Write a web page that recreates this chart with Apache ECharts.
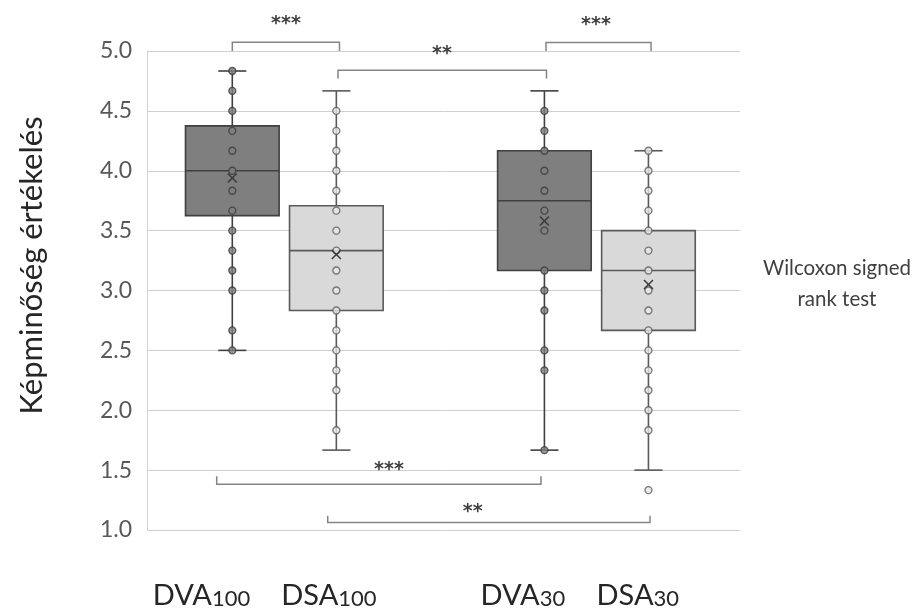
<!DOCTYPE html>
<html><head><meta charset="utf-8">
<script src="https://cdn.jsdelivr.net/npm/echarts@6/dist/echarts.min.js"></script>
<style>html,body{margin:0;padding:0;background:#fff}#c{width:921px;height:611px}</style>
</head><body><div id="c"></div>
<script>
// ---- data ----
const groupNames = ['DVA', 'DSA', 'DVA', 'DSA'];
const groupSubs = ['100', '100', '30', '30'];
const groupX = [1, 2, 4, 5];
const whiskerLow = [2.5, 1.667, 1.667, 1.5];
const q1 = [3.625, 2.833, 3.167, 2.667];
const median = [4.0, 3.333, 3.75, 3.167];
const q3 = [4.375, 3.708, 4.167, 3.5];
const whiskerHigh = [4.833, 4.667, 4.667, 4.167];
const mean = [3.94, 3.30, 3.58, 3.05];
const pointsDVA100 = [4.833, 4.667, 4.5, 4.333, 4.167, 4.0, 3.833, 3.667, 3.5, 3.333, 3.167, 3.0, 2.667, 2.5];
const pointsDSA100 = [4.5, 4.333, 4.167, 4.0, 3.833, 3.667, 3.5, 3.333, 3.167, 3.0, 2.833, 2.667, 2.5, 2.333, 2.167, 1.833];
const pointsDVA30 = [4.5, 4.333, 4.167, 4.0, 3.833, 3.667, 3.5, 3.167, 3.0, 2.833, 2.5, 2.333, 1.667];
const pointsDSA30 = [4.167, 4.0, 3.833, 3.667, 3.5, 3.333, 3.167, 3.0, 2.833, 2.667, 2.5, 2.333, 2.167, 2.0, 1.833, 1.333];
const pointSets = [pointsDVA100, pointsDSA100, pointsDVA30, pointsDSA30];
// significance brackets (data units)
const brackets = [
  {x1: 1.0, x2: 2.03, y: 5.073, leg: 5.0, lx: 1.516, ly: 5.26, label: '***'},
  {x1: 2.016, x2: 4.02, y: 4.839, leg: 4.77, lx: 3.015, ly: 5.008, label: '**'},
  {x1: 4.015, x2: 5.025, y: 5.07, leg: 5.0, lx: 4.496, ly: 5.25, label: '***'},
  {x1: 0.85, x2: 3.967, y: 1.383, leg: 1.448, lx: 2.506, ly: 1.536, label: '***'},
  {x1: 1.917, x2: 5.015, y: 1.063, leg: 1.119, lx: 3.31, ly: 1.183, label: '**'}
];
const yAxisTitle = 'Képminőség értékelés';
const noteLines = ['Wilcoxon signed', 'rank test'];

// ---- chart ----
const FONT = 'Lato, "Open Sans", sans-serif';
const isDark = i => groupNames[i] === 'DVA';
const style = i => isDark(i)
  ? {fill: '#7f7f7f', stroke: '#404040', ptFill: '#808080', ptStroke: '#3a3a3a'}
  : {fill: '#d9d9d9', stroke: '#5a5a5a', ptFill: '#e6e6e6', ptStroke: '#5a5a5a'};
// category labels sit slightly left of their boxes in the reference
const labelNudge = [-0.296, -0.071, -0.207, -0.102];
const labelValues = groupX.map((x, i) => +(x + labelNudge[i]).toFixed(3));

const boxData = groupX.map((x, i) => [x, whiskerLow[i], q1[i], median[i], q3[i], whiskerHigh[i]]);
const pointData = [];
pointSets.forEach((arr, i) => arr.forEach(v => pointData.push({value: [groupX[i], v],
  itemStyle: {color: style(i).ptFill, borderColor: style(i).ptStroke}})));
const meanData = groupX.map((x, i) => [x, mean[i]]);
const bracketData = brackets.map(b => [b.x1, b.y]);

const chart = echarts.init(document.getElementById('c'));
chart.setOption({
  animation: false,
  backgroundColor: '#fff',
  grid: {left: 147, top: 51, width: 593, height: 479, containLabel: false},
  xAxis: {
    type: 'value', min: 0.18, max: 5.88,
    axisLine: {show: false}, axisTick: {show: false}, splitLine: {show: false},
    axisLabel: {
      customValues: labelValues, margin: 45, hideOverlap: false,
      showMinLabel: true, showMaxLabel: true,
      formatter: v => {
        let i = -1, d = 1e9;
        labelValues.forEach((lv, k) => { if (Math.abs(lv - v) < d) { d = Math.abs(lv - v); i = k; } });
        return d > 0.01 ? '' : '{n|' + groupNames[i] + '}{s|' + groupSubs[i] + '}';
      },
      rich: {
        n: {fontSize: 29, fontFamily: FONT, color: '#262626', lineHeight: 35, verticalAlign: 'bottom'},
        s: {fontSize: 22, fontFamily: FONT, color: '#262626', lineHeight: 29, verticalAlign: 'bottom'}
      }
    }
  },
  yAxis: {
    type: 'value', min: 1, max: 5, interval: 0.5,
    name: yAxisTitle, nameLocation: 'middle', nameGap: 100,
    nameTextStyle: {fontSize: 31, fontFamily: FONT, color: '#262626', padding: [0, 0, 0, 50]},
    axisLine: {show: true, lineStyle: {color: '#d0d0d0', width: 1}},
    axisTick: {show: false},
    splitLine: {lineStyle: {color: '#cfcfcf', width: 1}},
    axisLabel: {fontSize: 23, fontFamily: FONT, color: '#595959', margin: 15, formatter: v => v.toFixed(1)}
  },
  graphic: noteLines.map((t, k) => ({
    type: 'text', x: 837, y: 268 + k * 31,
    style: {text: t, fontSize: 20.5, fontFamily: FONT, fill: '#404040', align: 'center', verticalAlign: 'middle'}
  })),
  series: [
    {
      type: 'custom', name: 'box', data: boxData, z: 2,
      renderItem: (params, api) => {
        const i = params.dataIndex, s = style(i);
        const x = api.value(0);
        const lo = api.coord([x, api.value(1)]), hi = api.coord([x, api.value(5)]);
        const tl = api.coord([x - 0.45, api.value(4)]), br = api.coord([x + 0.45, api.value(2)]);
        const md = api.coord([x, api.value(3)]);
        const capL = api.coord([x - 0.135, 0])[0], capR = api.coord([x + 0.135, 0])[0];
        const ls = {stroke: s.stroke, lineWidth: 1.6};
        return {type: 'group', children: [
          {type: 'line', shape: {x1: lo[0], y1: lo[1], x2: hi[0], y2: hi[1]}, style: ls},
          {type: 'line', shape: {x1: capL, y1: lo[1], x2: capR, y2: lo[1]}, style: ls},
          {type: 'line', shape: {x1: capL, y1: hi[1], x2: capR, y2: hi[1]}, style: ls},
          {type: 'rect', shape: {x: tl[0], y: tl[1], width: br[0] - tl[0], height: br[1] - tl[1]},
            style: {fill: s.fill, stroke: s.stroke, lineWidth: 1.6}},
          {type: 'line', shape: {x1: tl[0], y1: md[1], x2: br[0], y2: md[1]}, style: ls}
        ]};
      }
    },
    {
      type: 'scatter', name: 'points', data: pointData, symbol: 'circle', symbolSize: 7, z: 3,
      itemStyle: {borderWidth: 1.3}
    },
    {
      type: 'custom', name: 'mean', data: meanData, z: 4,
      renderItem: (params, api) => {
        const p = api.coord([api.value(0), api.value(1)]), h = 4.5;
        const st = {stroke: '#3a3a3a', lineWidth: 1.5};
        return {type: 'group', children: [
          {type: 'line', shape: {x1: p[0] - h, y1: p[1] - h, x2: p[0] + h, y2: p[1] + h}, style: st},
          {type: 'line', shape: {x1: p[0] - h, y1: p[1] + h, x2: p[0] + h, y2: p[1] - h}, style: st}
        ]};
      }
    },
    {
      type: 'custom', name: 'brackets', data: bracketData, z: 5, clip: false,
      renderItem: (params, api) => {
        const b = brackets[params.dataIndex];
        const p1 = api.coord([b.x1, b.leg]), p2 = api.coord([b.x1, b.y]);
        const p3 = api.coord([b.x2, b.y]), p4 = api.coord([b.x2, b.leg]);
        const t = api.coord([b.lx, b.ly]);
        return {type: 'group', children: [
          {type: 'polyline', shape: {points: [p1, p2, p3, p4]}, style: {stroke: '#858585', lineWidth: 1.5, fill: null}},
          {type: 'text', x: t[0], y: t[1] + 4, style: {text: b.label, fontSize: 19, fontWeight: 'bold',
            fontFamily: '"DejaVu Sans", sans-serif', fill: '#404040', align: 'center', verticalAlign: 'middle'}}
        ]};
      }
    }
  ]
});
</script></body></html>
